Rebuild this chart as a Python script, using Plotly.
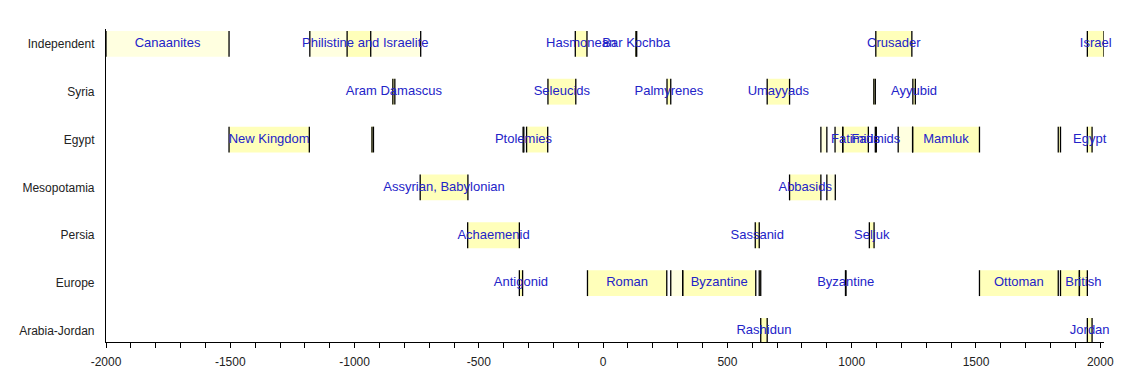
import plotly.graph_objects as go

# ---------------- data ----------------
regions = ["Arabia-Jordan", "Europe", "Persia", "Mesopotamia", "Egypt", "Syria", "Independent"]

seg_region = [
    "Independent", "Independent", "Independent", "Independent", "Independent", "Independent", "Independent",
    "Syria", "Syria", "Syria", "Syria", "Syria", "Syria",
    "Egypt", "Egypt", "Egypt", "Egypt", "Egypt", "Egypt", "Egypt", "Egypt", "Egypt", "Egypt", "Egypt", "Egypt",
    "Mesopotamia", "Mesopotamia", "Mesopotamia",
    "Persia", "Persia", "Persia",
    "Europe", "Europe", "Europe", "Europe", "Europe", "Europe", "Europe", "Europe", "Europe",
    "Arabia-Jordan", "Arabia-Jordan",
]
seg_start = [
    -2000, -1180, -1030, -112, 132, 1097, 1948,
    -846, -222, 257, 660, 1089, 1246,
    -1505, -930, -322, -308, 876, 933, 964, 1095, 1187, 1245, 1831, 1948,
    -736, 750, 900,
    -545, 612, 1071,
    -337, -63, 272, 320, 628, 975, 1514, 1840, 1916,
    634, 1948,
]
seg_end = [
    -1505, -734, -935, -65, 135, 1242, 2015,
    -838, -110, 272, 750, 1095, 1256,
    -1182, -924, -319, -223, 900, 964, 1067, 1099, 1245, 1514, 1840, 1967,
    -544, 876, 934,
    -337, 628, 1090,
    -324, 256, 320, 614, 634, 977, 1831, 1916, 1948,
    660, 1967,
]
seg_label = [
    "Canaanites", "Philistine and Israelite", "", "Hasmonean", "Bar Kochba", "Crusader", "Israel",
    "Aram Damascus", "Seleucids", "Palmyrenes", "Umayyads", "", "Ayyubid",
    "New Kingdom", "", "Ptolemies", "", "", "", "Fatimids", "Fatimids", "", "Mamluk", "", "Egypt",
    "Assyrian, Babylonian", "Abbasids", "",
    "Achaemenid", "Sassanid", "Seljuk",
    "Antigonid", "Roman", "", "Byzantine", "", "Byzantine", "Ottoman", "", "British",
    "Rashidun", "Jordan",
]

x_ticks = [-2000, -1500, -1000, -500, 0, 500, 1000, 1500, 2000]

# ---------------- styling ----------------
PALE_SEGMENTS = {("Independent", -2000), ("Independent", -1180), ("Egypt", 876),
                 ("Egypt", 933), ("Egypt", 1187), ("Mesopotamia", 900), ("Europe", 272)}
PALE = "#FFFFE0"
STRONG = "#FFFFBA"
HALF = 0.27
LABEL_BLUE = "#2323C8"

row_of = {r: i for i, r in enumerate(regions)}
ys = [row_of[r] for r in seg_region]
colors = [PALE if (r, s) in PALE_SEGMENTS else STRONG for r, s in zip(seg_region, seg_start)]

fig = go.Figure()

# filled boxes
fig.add_trace(go.Bar(
    orientation="h",
    y=ys,
    base=seg_start,
    x=[e - s for s, e in zip(seg_start, seg_end)],
    width=2 * HALF,
    marker=dict(color=colors, line=dict(width=0)),
    hoverinfo="skip",
    showlegend=False,
))

# vertical boundary lines
lx, ly = [], []
for s, e, y in zip(seg_start, seg_end, ys):
    for v in (s, e):
        lx += [v, v, None]
        ly += [y - HALF, y + HALF, None]
fig.add_trace(go.Scatter(
    x=lx, y=ly, mode="lines",
    line=dict(color="black", width=1.3),
    hoverinfo="skip", showlegend=False,
))

# labels
tx, ty, tt = [], [], []
for s, e, y, lab in zip(seg_start, seg_end, ys, seg_label):
    if lab:
        tx.append((s + e) / 2)
        ty.append(y)
        tt.append(lab)
fig.add_trace(go.Scatter(
    x=tx, y=ty, text=tt, mode="text",
    textposition="middle center",
    textfont=dict(family="Liberation Sans, Arial, sans-serif", size=13, color=LABEL_BLUE),
    cliponaxis=False,
    hoverinfo="skip", showlegend=False,
))

# page body adds an 8px offset; figure sized to fit inside the window
fig.update_layout(
    width=1123, height=364,
    margin=dict(l=98, r=27, t=21, b=30),
    plot_bgcolor="white", paper_bgcolor="white",
    barmode="overlay",
    font=dict(family="Liberation Sans, Arial, sans-serif", size=12, color="#222"),
    xaxis=dict(
        range=[-2000, 2015],
        tickmode="array", tickvals=x_ticks, ticktext=[str(v) for v in x_ticks],
        ticks="outside", ticklen=5, tickwidth=1, tickcolor="black",
        minor=dict(tick0=-2000, dtick=100, ticks="outside", ticklen=5, tickwidth=1, tickcolor="black"),
        showline=True, linecolor="black", linewidth=1.2,
        showgrid=False, zeroline=False,
        ticklabelstandoff=3,
        tickfont=dict(size=12, color="#222"),
        automargin=False,
    ),
    yaxis=dict(
        range=[-0.23, 6.31],
        tickmode="array", tickvals=list(range(len(regions))), ticktext=regions,
        ticks="", showline=True, linecolor="black", linewidth=1.2,
        showgrid=False, zeroline=False,
        ticklabelstandoff=8,
        tickfont=dict(size=12, color="#222"),
        automargin=False,
    ),
)

fig.write_html("out.html")
